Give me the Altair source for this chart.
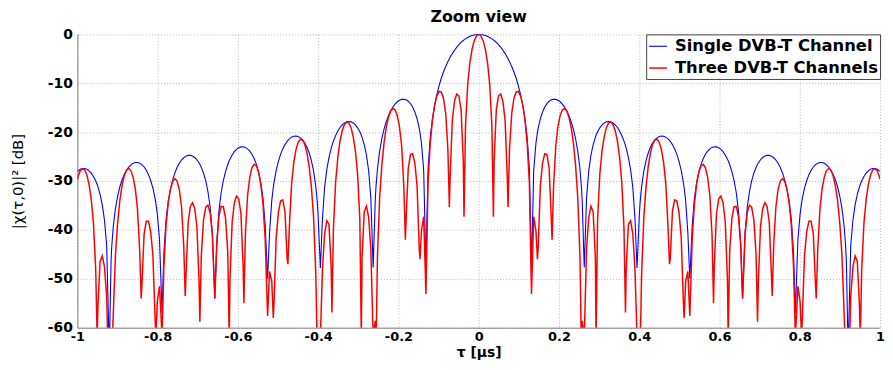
import altair as alt
import pandas as pd

# Delay values (microseconds), right half of the symmetric plot (0 ... 1)
tau_us = [
    0.0000, 0.0055, 0.0110, 0.0165, 0.0219, 0.0274, 0.0329, 0.0366, 0.0384, 0.0439, 0.0494,
    0.0549, 0.0603, 0.0658, 0.0713, 0.0731, 0.0768, 0.0823, 0.0878, 0.0933, 0.0987, 0.1042,
    0.1097, 0.1152, 0.1207, 0.1262, 0.1315, 0.1371, 0.1426, 0.1463, 0.1481, 0.1536, 0.1591,
    0.1646, 0.1700, 0.1755, 0.1810, 0.1828, 0.1865, 0.1920, 0.1975, 0.2030, 0.2084, 0.2139,
    0.2194, 0.2249, 0.2304, 0.2359, 0.2413, 0.2468, 0.2523, 0.2560, 0.2578, 0.2630, 0.2688,
    0.2743, 0.2797, 0.2852, 0.2907, 0.2925, 0.2962, 0.3017, 0.3072, 0.3127, 0.3181, 0.3236,
    0.3291, 0.3346, 0.3401, 0.3456, 0.3510, 0.3565, 0.3620, 0.3657, 0.3675, 0.3730, 0.3785,
    0.3840, 0.3894, 0.3945, 0.4004, 0.4022, 0.4059, 0.4114, 0.4169, 0.4224, 0.4278, 0.4333,
    0.4388, 0.4443, 0.4498, 0.4553, 0.4607, 0.4662, 0.4717, 0.4754, 0.4772, 0.4827, 0.4882,
    0.4937, 0.4991, 0.5046, 0.5101, 0.5119, 0.5156, 0.5211, 0.5260, 0.5321, 0.5375, 0.5430,
    0.5485, 0.5540, 0.5595, 0.5650, 0.5704, 0.5759, 0.5814, 0.5851, 0.5869, 0.5924, 0.5979,
    0.6034, 0.6088, 0.6143, 0.6198, 0.6216, 0.6253, 0.6308, 0.6363, 0.6418, 0.6472, 0.6527, 0.6575,
    0.6637, 0.6692, 0.6747, 0.6801, 0.6856, 0.6911, 0.6948, 0.6966, 0.7021, 0.7076,
    0.7131, 0.7185, 0.7240, 0.7295, 0.7313, 0.7350, 0.7405, 0.7460, 0.7515, 0.7569, 0.7624,
    0.7679, 0.7734, 0.7789, 0.7844, 0.7890, 0.7953, 0.8008, 0.8045, 0.8063, 0.8118, 0.8173,
    0.8228, 0.8282, 0.8337, 0.8392, 0.8410, 0.8447, 0.8502, 0.8557, 0.8612, 0.8666, 0.8721,
    0.8776, 0.8831, 0.8886, 0.8941, 0.8995, 0.9050, 0.9105, 0.9142, 0.9160, 0.9205, 0.9270,
    0.9325, 0.9379, 0.9434, 0.9489, 0.9507, 0.9544, 0.9599, 0.9654, 0.9709, 0.9763, 0.9818,
    0.9873, 0.9928, 0.9983, 1.0000,
]

# |chi(tau,0)|^2 in dB, single DVB-T channel (blue)
single_db = [
    0.00, -0.03, -0.10, -0.22, -0.40, -0.63, -0.92, -1.13, -1.25, -1.65, -2.12,
    -2.65, -3.25, -3.93, -4.70, -4.98, -5.58, -6.57, -7.69, -8.98, -10.49, -12.28,
    -14.43, -17.20, -21.04, -27.49, -47.70, -27.76, -22.27, -20.10, -19.24, -17.26, -15.86,
    -14.87, -14.16, -13.68, -13.39, -13.33, -13.27, -13.30, -13.47, -13.79, -14.26, -14.88,
    -15.66, -16.65, -17.87, -19.40, -21.33, -23.89, -27.54, -31.26, -33.94, -47.70, -33.39,
    -27.84, -24.69, -22.58, -21.06, -20.65, -19.94, -19.12, -18.52, -18.12, -17.90, -17.83,
    -17.91, -18.14, -18.52, -19.05, -19.77, -20.68, -21.83, -22.76, -23.29, -25.17, -27.67,
    -31.30, -37.78, -47.80, -36.65, -34.37, -31.15, -27.97, -25.83, -24.27, -23.11, -22.24,
    -21.60, -21.16, -20.90, -20.79, -20.83, -21.03, -21.37, -21.69, -21.87, -22.55, -23.43,
    -24.55, -25.99, -27.84, -30.34, -31.37, -33.97, -40.52, -50.00, -38.92, -33.48, -30.32,
    -28.16, -26.59, -25.41, -24.52, -23.87, -23.41, -23.12, -23.02, -22.99, -23.02, -23.19,
    -23.52, -24.00, -24.66, -25.52, -25.86, -26.63, -28.06, -29.90, -32.40, -36.06, -42.74, -54.00,
    -40.63, -35.27, -32.14, -29.98, -28.40, -27.21, -26.59, -26.32, -25.65, -25.18,
    -24.89, -24.75, -24.76, -24.92, -25.01, -25.24, -25.71, -26.36, -27.22, -28.32, -29.75,
    -31.59, -34.09, -37.78, -44.61, -57.00, -42.01, -36.74, -34.52, -33.61, -31.47, -29.89,
    -28.70, -27.80, -27.13, -26.65, -26.54, -26.35, -26.21, -26.21, -26.37, -26.68, -27.14,
    -27.79, -28.64, -29.74, -31.17, -33.02, -35.53, -39.26, -43.22, -46.21, -65.00, -43.15,
    -37.96, -34.87, -32.73, -31.15, -30.72, -29.96, -29.06, -28.39, -27.91, -27.60, -27.45,
    -27.46, -27.61, -27.91, -28.04,
]

# |chi(tau,0)|^2 in dB, three DVB-T channels (red)
three_db = [
    0.00, -0.31, -1.28, -3.02, -5.76, -10.17, -18.82, -37.30, -25.90, -15.37, -12.56,
    -12.19, -13.69, -17.65, -29.35, -35.30, -23.48, -16.11, -13.05, -11.77, -11.67, -12.57,
    -14.43, -17.49, -22.22, -30.28, -53.10, -37.30, -40.17, -46.00, -43.89, -30.98, -26.30,
    -24.41, -24.60, -27.40, -38.04, -42.00, -31.17, -22.84, -18.83, -16.58, -15.44, -15.17,
    -15.66, -16.94, -19.05, -22.19, -26.69, -33.43, -45.44, -65.00, -58.59, -62.00, -43.83,
    -37.38, -35.13, -36.30, -45.71, -62.00, -37.84, -28.66, -23.88, -20.91, -19.08, -18.12,
    -17.91, -18.43, -19.70, -21.84, -25.13, -30.22, -39.73, -56.90, -47.94, -38.89, -38.11,
    -40.84, -48.22, -62.00, -61.30, -65.00, -49.05, -37.51, -31.19, -27.06, -24.29, -22.53,
    -21.60, -21.45, -22.08, -23.58, -26.19, -30.57, -39.27, -47.00, -46.00, -36.27, -33.87,
    -34.09, -36.43, -41.56, -54.99, -58.00, -50.50, -48.50, -57.60, -41.71, -34.66, -30.61,
    -28.16, -26.88, -26.59, -27.31, -29.23, -32.95, -41.02, -55.00, -47.64, -36.74, -33.63,
    -33.06, -34.44, -38.38, -50.17, -62.00, -44.53, -37.60, -35.26, -35.19, -37.24, -43.03, -54.00,
    -40.92, -36.45, -34.93, -35.34, -37.94, -45.11, -58.80, -50.97, -39.37, -35.62,
    -34.43, -35.19, -38.48, -49.57, -53.50, -43.14, -35.25, -31.72, -30.01, -29.50, -30.04,
    -31.59, -34.38, -38.96, -47.40, -62.00, -51.55, -54.64, -62.00, -58.26, -45.19, -40.33,
    -38.24, -38.24, -40.85, -51.30, -54.00, -44.25, -35.75, -31.57, -29.16, -27.86, -27.43,
    -27.79, -28.93, -30.92, -33.96, -38.38, -45.07, -57.16, -65.00, -70.00, -75.00, -53.59,
    -47.50, -45.31, -46.45, -55.80, -62.00, -47.86, -38.60, -33.75, -30.70, -28.78, -27.74,
    -27.46, -27.90, -29.09, -29.65,
]

series_names = ["Single DVB-T Channel", "Three DVB-T Channels"]
series_colors = ["#0000ff", "#ff0000"]
series_widths = [1.1, 1.5]
x_ticks = [-1, -0.8, -0.6, -0.4, -0.2, 0, 0.2, 0.4, 0.6, 0.8, 1]
y_ticks = [0, -10, -20, -30, -40, -50, -60]

# The curve is symmetric in tau: build the full range from the right half.
full_tau = [-t for t in reversed(tau_us[1:])] + tau_us
full_single = list(reversed(single_db[1:])) + single_db
full_three = list(reversed(three_db[1:])) + three_db

rows = []
for name, vals in zip(series_names, [full_single, full_three]):
    for i, (t, v) in enumerate(zip(full_tau, vals)):
        rows.append({"tau": t, "db": v, "series": name, "idx": i})
df = pd.DataFrame(rows)

label_expr = "datum.value < 0 ? '-' + toString(abs(datum.value)) : toString(datum.value)"
FONT = "DejaVu Sans"

chart = (
    alt.Chart(df)
    .mark_line(clip=True)
    .encode(
        x=alt.X(
            "tau:Q",
            scale=alt.Scale(domain=[-1, 1], nice=False, zero=False),
            axis=alt.Axis(
                values=x_ticks, title="τ [µs]", labelExpr=label_expr,
                grid=True, gridDash=[1, 2], gridColor="#b5b5b5",
                ticks=False, domainColor="#7f7f7f",
                labelFont=FONT, labelFontWeight="bold", labelFontSize=13,
                labelColor="black", labelPadding=3, labelFlush=False,
                labelOverlap=False,
                titleFont=FONT, titleFontWeight="bold", titleFontSize=14,
                titleColor="black", titleBaseline="bottom", titleY=32,
            ),
        ),
        y=alt.Y(
            "db:Q",
            scale=alt.Scale(domain=[-60, 0], nice=False, zero=False),
            axis=alt.Axis(
                values=y_ticks, title="|χ(τ,0)|² [dB]", labelExpr=label_expr,
                grid=True, gridDash=[1, 2], gridColor="#b5b5b5",
                ticks=False, domainColor="#7f7f7f",
                labelFont=FONT, labelFontWeight="bold", labelFontSize=14,
                labelColor="black", labelPadding=5, labelFlush=False,
                labelOverlap=False,
                titleFont=FONT, titleFontWeight="normal", titleFontSize=15,
                titleColor="black", titleX=-52, titleY=148,
                titleAngle=270, titleBaseline="bottom", titleAlign="center",
            ),
        ),
        color=alt.Color(
            "series:N",
            scale=alt.Scale(domain=series_names, range=series_colors),
            legend=alt.Legend(
                title=None, orient="top-right", offset=0, padding=2,
                fillColor="white", strokeColor="#444444",
                symbolType="stroke", symbolSize=324, symbolStrokeWidth=1.2,
                labelFont=FONT, labelFontWeight="bold", labelFontSize=16.5,
                labelColor="black", labelOffset=7, labelLimit=0, rowPadding=3,
            ),
        ),
        strokeWidth=alt.StrokeWidth(
            "series:N",
            scale=alt.Scale(domain=series_names, range=series_widths),
            legend=None,
        ),
        order="idx:Q",
    )
    .properties(
        width=810,
        height=296,
        title=alt.Title(
            "Zoom view", font=FONT, fontSize=16, fontWeight="bold",
            color="black", anchor="middle", offset=2,
        ),
        autosize=alt.AutoSizeParams(type="none"),
        padding={"left": 70, "top": 25, "right": 5, "bottom": 32},
        background="white",
    )
    .configure_view(stroke=None)
)

chart.save("out.html", embed_options={"renderer": "svg", "actions": False})
